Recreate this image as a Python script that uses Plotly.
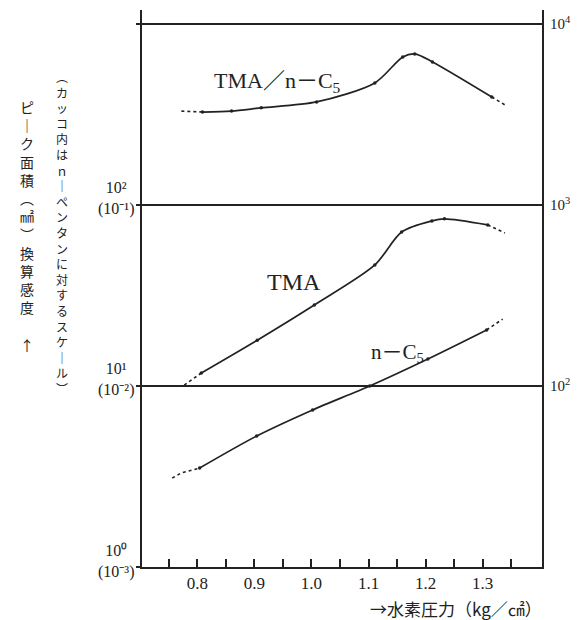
import math
import plotly.graph_objects as go

# ---------------- data ----------------
# x: hydrogen pressure (kg/cm2); y: values on the left (log) scale
ratio_x = [0.809, 0.860, 0.912, 1.009, 1.111, 1.160, 1.181, 1.212, 1.316]
ratio_y = [326, 330, 344, 371, 472, 657, 683, 617, 395]
ratio_lead_x = [0.772, 0.809]
ratio_lead_y = [330, 326]
ratio_tail_x = [1.316, 1.339]
ratio_tail_y = [395, 357]

tma_x = [0.807, 0.905, 1.005, 1.111, 1.158, 1.211, 1.233, 1.309]
tma_y = [11.8, 17.9, 28.0, 46.6, 70.9, 81.6, 83.8, 77.6]
tma_lead_x = [0.777, 0.807]
tma_lead_y = [10.1, 11.8]
tma_tail_x = [1.309, 1.339]
tma_tail_y = [77.6, 70.0]

nc5_x = [0.804, 0.904, 1.002, 1.102, 1.204, 1.307]
nc5_y = [3.52, 5.29, 7.37, 10.0, 14.1, 20.4]
nc5_lead_x = [0.756, 0.772, 0.804]
nc5_lead_y = [3.10, 3.31, 3.52]
nc5_tail_x = [1.307, 1.335]
nc5_tail_y = [20.4, 23.4]

x_major = [0.8, 0.9, 1.0, 1.1, 1.2, 1.3]
x_major_text = ["0.8", "0.9", "1.0", "1.1", "1.2", "1.3"]
x_minor = [0.75, 0.85, 0.95, 1.05, 1.15, 1.25, 1.35]

left_vals = [1, 10, 100, 1000]
left_label_vals = [100, 10, 1]
left_main = ["10²", "10¹", "10⁰"]
left_paren = ["(10⁻¹)", "(10⁻²)", "(10⁻³)"]

right_vals = [100, 1000, 10000]
right_text = ["10<sup>2</sup>", "10<sup>3</sup>", "10<sup>4</sup>"]

col1_text = ["︵", "カ", "ッ", "コ", "内", "は", "ｎ", "｜", "ペ", "ン", "タ", "ン",
             "に", "対", "す", "る", "ス", "ケ", "｜", "ル", "︶"]
col2_text = ["ピ", "｜", "ク", "面", "積", "︵", "㎟", "︶", "換", "算", "感", "度"]
arrow_text = "↑"

x_title = "→水素圧力（kg／㎠）"
label_ratio = "TMA／n－C<sub>5</sub>"
label_tma = "TMA"
label_nc5 = "n－C<sub>5</sub>"

# ---------------- styling ----------------
INK = "#222222"
SERIF = "Liberation Serif, Noto Sans CJK JP, serif"
CJK = "Noto Sans CJK JP, Liberation Serif, sans-serif"

# the page body has an 8px margin; work in page pixels and convert
OFF = 8
W, H = 579 - OFF, 620 - OFF
PLOT_LEFT, PLOT_RIGHT, PLOT_TOP, PLOT_BOTTOM = 142, 542, 10, 567  # page px
L = PLOT_LEFT - OFF
T = PLOT_TOP - OFF
R = W - (PLOT_RIGHT - OFF)
B = H - (PLOT_BOTTOM - OFF)
PW, PH = PLOT_RIGHT - PLOT_LEFT, PLOT_BOTTOM - PLOT_TOP


def px_x(px):
    return (px - PLOT_LEFT) / PW


def px_y(py):
    return (PLOT_BOTTOM - py) / PH


fig = go.Figure()


def add_series(xs, ys, lx, ly, tx, ty):
    fig.add_trace(go.Scatter(
        x=xs, y=ys, mode="lines+markers",
        line=dict(color=INK, width=1.7, shape="spline", smoothing=0.8),
        marker=dict(size=3.5, color=INK),
        hoverinfo="skip", showlegend=False))
    for ex, ey in ((lx, ly), (tx, ty)):
        fig.add_trace(go.Scatter(
            x=ex, y=ey, mode="lines",
            line=dict(color=INK, width=1.6, dash="dot"),
            hoverinfo="skip", showlegend=False))


add_series(ratio_x, ratio_y, ratio_lead_x, ratio_lead_y, ratio_tail_x, ratio_tail_y)
add_series(tma_x, tma_y, tma_lead_x, tma_lead_y, tma_tail_x, tma_tail_y)
add_series(nc5_x, nc5_y, nc5_lead_x, nc5_lead_y, nc5_tail_x, nc5_tail_y)

# dummy trace so the right-hand axis is drawn
fig.add_trace(go.Scatter(x=[None], y=[None], yaxis="y2", showlegend=False,
                         hoverinfo="skip"))

annotations = []
# left two-line tick labels
for v, a, b in zip(left_label_vals, left_main, left_paren):
    annotations.append(dict(
        x=px_x(116), xref="paper", y=math.log10(v), yref="y",
        text=f"{a}<br>{b}", showarrow=False, xanchor="center", yanchor="middle",
        yshift=6, align="center", font=dict(family=SERIF, size=16, color=INK)))

# vertical axis titles (upright characters, top to bottom)
annotations.append(dict(
    x=px_x(62), xref="paper", y=px_y(232), yref="paper",
    text="<br>".join(col1_text), showarrow=False, xanchor="center", yanchor="middle",
    align="center", font=dict(family=CJK, size=12, color=INK)))
annotations.append(dict(
    x=px_x(27), xref="paper", y=px_y(207), yref="paper",
    text="<br>".join(col2_text), showarrow=False, xanchor="center", yanchor="middle",
    align="center", font=dict(family=CJK, size=14, color=INK)))
annotations.append(dict(
    x=px_x(27), xref="paper", y=px_y(345), yref="paper",
    text=arrow_text, showarrow=False, xanchor="center", yanchor="middle",
    font=dict(family=CJK, size=14, color=INK)))

# curve labels
annotations.append(dict(
    x=px_x(212), xref="paper", y=px_y(82), yref="paper",
    text=label_ratio, showarrow=False, xanchor="left", yanchor="middle",
    font=dict(family=SERIF, size=22, color=INK)))
annotations.append(dict(
    x=px_x(265), xref="paper", y=px_y(282), yref="paper",
    text=label_tma, showarrow=False, xanchor="left", yanchor="middle",
    font=dict(family=SERIF, size=24, color=INK)))
annotations.append(dict(
    x=px_x(369), xref="paper", y=px_y(353), yref="paper",
    text=label_nc5, showarrow=False, xanchor="left", yanchor="middle",
    font=dict(family=SERIF, size=21, color=INK)))

# x-axis title at the right
annotations.append(dict(
    x=px_x(544), xref="paper", y=px_y(608), yref="paper",
    text=x_title, showarrow=False, xanchor="right", yanchor="middle",
    font=dict(family=CJK, size=17, color=INK)))

fig.update_layout(
    width=W, height=H,
    margin=dict(l=L, r=R, t=T, b=B, autoexpand=False),
    paper_bgcolor="white", plot_bgcolor="white",
    showlegend=False,
    xaxis=dict(
        range=[0.703, 1.404], tickvals=x_major, ticktext=x_major_text,
        ticks="inside", ticklen=8, tickwidth=1.5, tickcolor=INK,
        minor=dict(tickvals=x_minor, ticks="inside", ticklen=8,
                   tickwidth=1.5, tickcolor=INK, showgrid=False),
        showline=True, linecolor=INK, linewidth=2, mirror=False,
        showgrid=False, zeroline=False,
        tickfont=dict(family=SERIF, size=17, color=INK)),
    yaxis=dict(
        type="log", range=[0, 3.077], tickvals=left_vals,
        showticklabels=False, ticks="outside", ticklen=4, tickwidth=1.5,
        tickcolor=INK, showline=True, linecolor=INK, linewidth=2,
        showgrid=True, gridcolor=INK, gridwidth=2, zeroline=False),
    yaxis2=dict(
        type="log", range=[1, 4.077], overlaying="y", side="right",
        tickvals=right_vals, ticktext=right_text,
        ticks="", ticklabelstandoff=3,
        showline=True, linecolor=INK, linewidth=2, showgrid=False,
        zeroline=False, tickfont=dict(family=SERIF, size=15, color=INK)),
    annotations=annotations,
)

fig.write_html("out.html")
